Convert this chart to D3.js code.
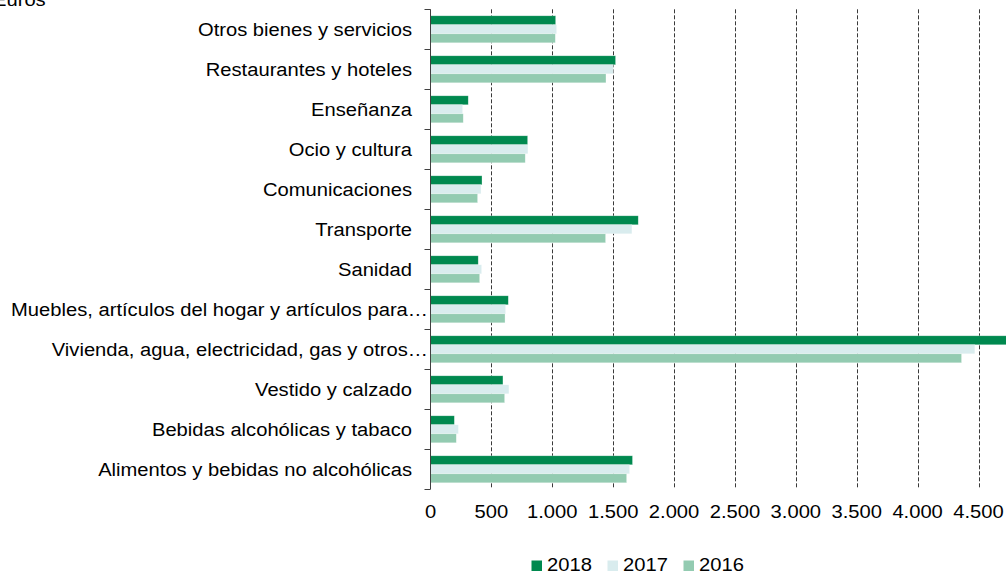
<!DOCTYPE html>
<html>
<head>
<meta charset="utf-8">
<script src="https://cdn.jsdelivr.net/npm/d3@7"></script>
<style>
  body { margin: 0; background: #fff; }
  svg { display: block; font-family: "Liberation Sans", Arial, sans-serif; }
  .grid line { stroke: #3a3a3a; stroke-dasharray: 4,2; stroke-width: 1; }
</style>
</head>
<body>
<svg id="chart" width="1006" height="573"></svg>
<script>
// categories, top to bottom as shown
var categories = [
  "Otros bienes y servicios ",
  "Restaurantes y hoteles",
  "Enseñanza",
  "Ocio y cultura",
  "Comunicaciones",
  "Transporte",
  "Sanidad",
  "Muebles, artículos del hogar y artículos para…",
  "Vivienda, agua, electricidad, gas y otros…",
  "Vestido y calzado",
  "Bebidas alcohólicas y tabaco",
  "Alimentos y bebidas no alcohólicas"
];
var years = ["2018", "2017", "2016"];
var values2018 = [1028, 1520, 310, 798, 423, 1706, 392, 639, 4780, 595, 196, 1659];
var values2017 = [1036, 1501, 264, 800, 415, 1654, 420, 617, 4470, 644, 229, 1635];
var values2016 = [1025, 1441, 269, 778, 387, 1438, 404, 612, 4361, 609, 212, 1611];
var xTicks = [0, 500, 1000, 1500, 2000, 2500, 3000, 3500, 4000, 4500];
var colors = ["#00894f", "#d9ecee", "#93cbb1"];

var series = [values2018, values2017, values2016];
var svg = d3.select("#chart");
var W = 1006, H = 573;
var fontSize = 18.6, stretch = 1.085; //text looks a bit wide in the picture

var es = d3.formatLocale({ decimal: ",", thousands: ".", grouping: [3], currency: ["", " €"] });
var fmt = es.format(",");

var x = d3.scaleLinear().domain([0, 4500]).range([430.5, 978.5]);
var y = d3.scaleBand().domain(categories).range([9.3, 489.3]);
var y1 = d3.scaleBand().domain(years).range([0, y.bandwidth()]).paddingOuter(0.72);
var color = d3.scaleOrdinal().domain(years).range(colors);

function label(g, tx, ty, anchor, txt) {
  return g.append("text")
      .attr("transform", "translate(" + tx + "," + ty + ") scale(" + stretch + ",1)")
      .attr("text-anchor", anchor)
      .attr("font-size", fontSize)
      .attr("fill", "#000")
      .text(txt);
}

svg.append("clipPath").attr("id", "clip")
  .append("rect").attr("x", 0).attr("y", 0).attr("width", W).attr("height", H);

//gridlines
svg.append("g").attr("class", "grid")
  .selectAll("line")
  .data(xTicks.filter(d => d > 0))
  .enter().append("line")
    .attr("x1", d => Math.round(x(d)) + 0.5)
    .attr("x2", d => Math.round(x(d)) + 0.5)
    .attr("y1", y.range()[0])
    .attr("y2", y.range()[1]);

//bars
var rows = categories.map((c, i) => ({ cat: c, vals: years.map((yr, j) => ({ year: yr, v: series[j][i] })) }));
svg.append("g").attr("clip-path", "url(#clip)")
  .selectAll("g")
  .data(rows)
  .enter().append("g")
    .attr("transform", d => "translate(0," + y(d.cat) + ")")
  .selectAll("rect")
  .data(d => d.vals)
  .enter().append("rect")
    .attr("x", x(0))
    .attr("y", d => y1(d.year))
    .attr("width", d => x(d.v) - x(0))
    .attr("height", y1.bandwidth())
    .attr("fill", d => color(d.year))
    .attr("stroke", "rgba(255,255,255,0.5)")
    .attr("stroke-width", 0.6);

//category axis
var axis = svg.append("g");
axis.append("line")
    .attr("x1", x(0)).attr("x2", x(0))
    .attr("y1", y.range()[0]).attr("y2", y.range()[1])
    .attr("stroke", "#404040");
var bounds = categories.map(c => y(c)).concat([y.range()[1]]);
axis.selectAll(".tick")
  .data(bounds)
  .enter().append("line")
    .attr("class", "tick")
    .attr("x1", x(0) - 6).attr("x2", x(0))
    .attr("y1", d => Math.round(d) + 0.5).attr("y2", d => Math.round(d) + 0.5)
    .attr("stroke", "#404040");
//truncated labels run up to the axis, the others stop short of it
categories.forEach(c => label(axis, c.endsWith("…") ? 428 : 412,
    y(c) + y.bandwidth() / 2 + 6.7, "end", c));

//value axis labels
var xl = svg.append("g");
xTicks.forEach(t => label(xl, x(t), 518, "middle", fmt(t)));

//unit
label(svg, -7, 6, "start", "Euros");

//legend
var legX = [531.5, 607.5, 683.5];
var leg = svg.append("g");
years.forEach((yr, i) => {
  leg.append("rect")
      .attr("x", legX[i]).attr("y", 560.5)
      .attr("width", 10.5).attr("height", 10.5)
      .attr("fill", color(yr));
  label(leg, legX[i] + 15.5, 571.3, "start", yr);
});
</script>
</body>
</html>
